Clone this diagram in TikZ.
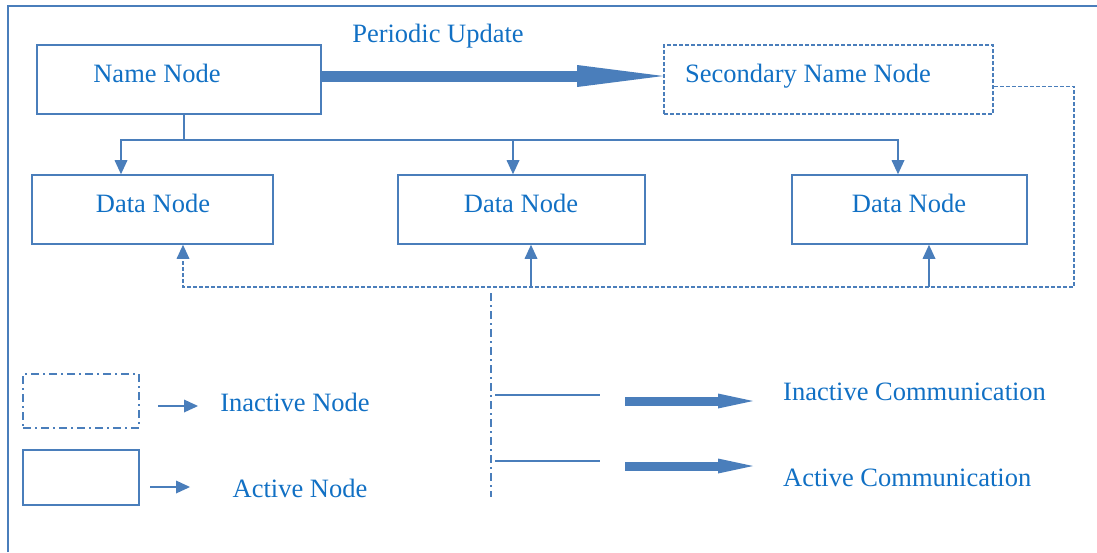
\documentclass[tikz,border=0pt]{standalone}
\usepackage{fontspec}
\setmainfont{Liberation Serif}
\usetikzlibrary{calc,arrows.meta}
\definecolor{linecol}{HTML}{4A7EBB}
\definecolor{txtcol}{HTML}{1170C4}
\tikzset{
  box/.style={draw=linecol,line width=1.6pt,inner sep=0pt,minimum height=69pt},
  dashbox/.style={box,dash pattern=on 4pt off 2pt},
  dotbox/.style={box,dash pattern=on 8pt off 4pt on 2pt off 4pt},
  txt/.style={text=txtcol,font=\fontsize{26.5}{30}\selectfont,text height=0.66em,text depth=0pt,inner sep=0pt,yshift=-6pt},
  link/.style={draw=linecol,line width=1.6pt},
  dashlink/.style={link,line width=1.8pt,dash pattern=on 4pt off 2pt},
  fat/.style={draw=linecol,line width=9pt,-{Triangle[length=35pt,width=15pt,line width=0pt]}},
}
\begin{document}
\begin{tikzpicture}[x=1pt,y=-1pt,>={Triangle[length=14pt,width=13pt,line width=0pt]}]
\useasboundingbox (0,0) rectangle (1097,552);
% frame
\draw[linecol,line width=2pt] (8,552) -- (8,6) -- (1097,6);

% nodes
\node[box,minimum width=284pt] (name) at (179,79.5) {};
\node[dashbox,minimum width=329pt] (sec) at (828.5,79.5) {};
\node[box,minimum width=241pt] (d1) at (152.5,209.5) {};
\node[box,minimum width=247pt] (d2) at (521.5,209.5) {};
\node[box,minimum width=235pt] (d3) at (909.5,209.5) {};
\node[txt] (nametxt) at (157,73) {Name Node};
\node[txt] (sectxt) at (808,73) {Secondary Name Node};
\node[txt] (d1txt) at (153,203) {Data Node};
\node[txt] (d2txt) at (521,203) {Data Node};
\node[txt] (d3txt) at (909,203) {Data Node};
\node[txt] (upd) at (438,33) {Periodic Update};

% periodic update
\draw[linecol,line width=11pt,-{Triangle[length=86pt,width=22pt,line width=0pt]}]
  ([yshift=3.5pt]name.east) -- ([yshift=3.5pt]sec.west);

% name node to data nodes
\coordinate (bus) at (184,140);
\draw[link] (name.south -| bus) -- (bus);
\draw[link,->] (bus) -| ($(d1.north)+(-31.5,0)$);
\draw[link,->] (bus) -| ($(d2.north)+(-8.5,0)$);
\draw[link,->] (bus) -| ($(d3.north)+(-11.5,0)$);

% secondary name node back to data nodes
\coordinate (loop) at (1074,287);
\draw[dashlink,->] ([yshift=-7pt]sec.east) -| (loop) -| ($(d1.south)+(30.5,0)$);
\coordinate (a2) at ($(d2.south)+(9.5,0)$);
\coordinate (a3) at ($(d3.south)+(19.5,0)$);
\draw[link,->] (a2 |- loop) -- (a2);
\draw[link,->] (a3 |- loop) -- (a3);

% legend
\draw[link,dash pattern=on 8pt off 4pt on 2pt off 4pt] (491,293) -- (491,497);
\node[dotbox,minimum width=116pt,minimum height=54pt] (inbox) at (81,401) {};
\node[box,minimum width=116pt,minimum height=55pt] (acbox) at (81,477.5) {};
\node[txt] (intxt) at (295,402) {Inactive Node};
\node[txt] (actxt) at (300,488) {Active Node};
\draw[link,line width=2pt,->] (158,406) -- (198,406);
\draw[link,line width=2pt,->] (150,487) -- (190,487);
\draw[link] (495,395) -- (600,395);
\draw[link] (495,461) -- (600,461);
\draw[fat] (625,401) -- (753,401);
\draw[fat] (625,466) -- (753,466);
\node[txt,anchor=west] (incom) at (783,391) {Inactive Communication};
\node[txt,anchor=west] (accom) at (783,477) {Active Communication};
\end{tikzpicture}
\end{document}
